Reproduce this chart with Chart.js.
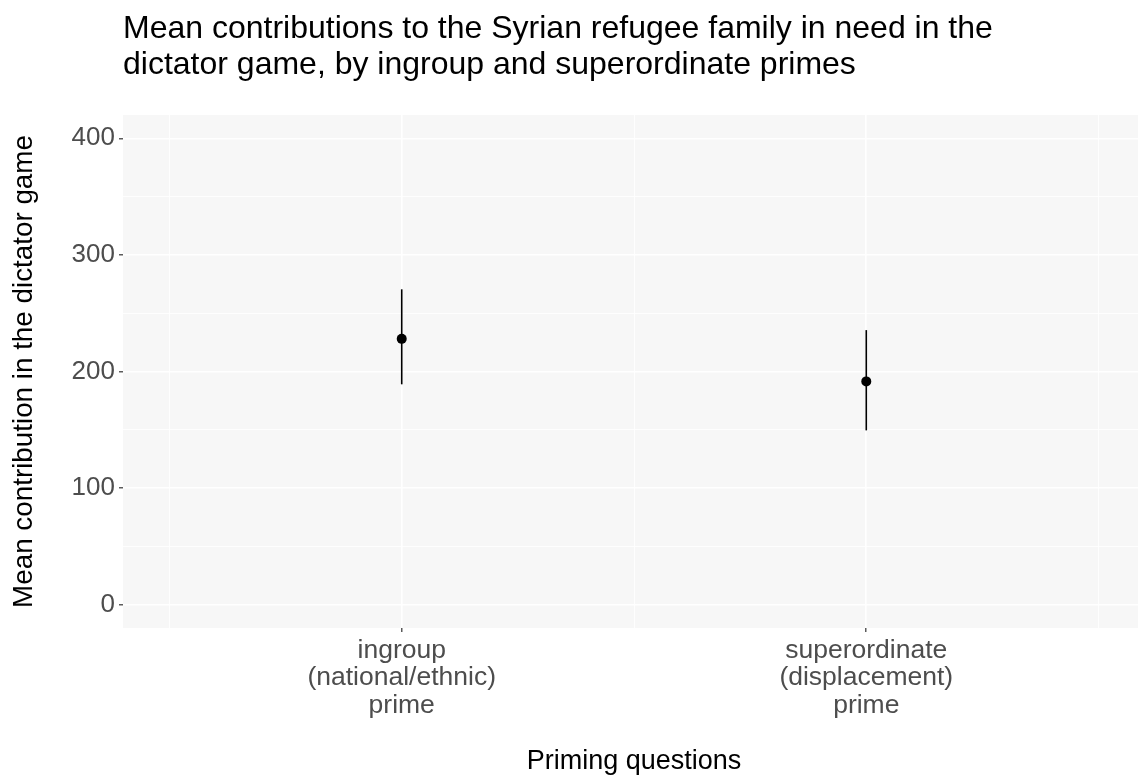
<!DOCTYPE html>
<html>
<head>
<meta charset="utf-8">
<script src="https://cdn.jsdelivr.net/npm/chart.js@4.4.1/dist/chart.umd.min.js"></script>
<style>
  html, body { margin: 0; padding: 0; background: #ffffff; overflow: hidden; }
  .chart-box { position: relative; width: 1150px; height: 778px; }
</style>
</head>
<body>
<div class="chart-box"><canvas id="primeChart"></canvas></div>
<script>
// values
const categories = [
    ['ingroup', '(national/ethnic)', 'prime'],
    ['superordinate', '(displacement)', 'prime']
];
const catPositions = [1, 2];
const meanValues = [228, 191.5];
const lowerValues = [189, 149.5];
const upperValues = [270.5, 235.5];

const xMinorBreaks = [0.5, 1.5, 2.5];
const yMajorBreaks = [0, 100, 200, 300, 400];
const yMinorBreaks = [50, 150, 250, 350];

const FONT = '"Liberation Sans", Arial, Helvetica, sans-serif';

// grey panel behind the plot, like ggplot
const panelBackground = {
    id: 'panelBackground',
    beforeDraw(chart) {
        const { ctx, chartArea } = chart;
        ctx.save();
        ctx.fillStyle = '#F7F7F7';
        ctx.fillRect(chartArea.left, chartArea.top, chartArea.right - chartArea.left, chartArea.bottom - chartArea.top);
        ctx.restore();
    }
};

const errorBarSets = catPositions.map((x, i) => ({
    type: 'line',
    data: [{ x: x, y: lowerValues[i] }, { x: x, y: upperValues[i] }],
    borderColor: '#000000',
    borderWidth: 1.6,
    pointRadius: 0,
    showLine: true
}));

const pointSet = {
    data: catPositions.map((x, i) => ({ x: x, y: meanValues[i] })),
    backgroundColor: '#000000',
    borderColor: '#000000',
    pointRadius: 5,
    pointBorderWidth: 0
};

function isMajor(list, v) {
    return list.some(m => Math.abs(m - v) < 1e-9);
}

new Chart(document.getElementById('primeChart').getContext('2d'), {
    type: 'scatter',
    data: { datasets: [pointSet, ...errorBarSets] },
    plugins: [panelBackground],
    options: {
        responsive: true,
        maintainAspectRatio: false,
        animation: false,
        layout: { padding: { left: 0, right: 5, top: 0, bottom: 0 } },
        plugins: {
            legend: { display: false },
            tooltip: { enabled: false },
            title: {
                display: true,
                fullSize: false,
                align: 'start',
                text: ['Mean contributions to the Syrian refugee family in need in the',
                       'dictator game, by ingroup and superordinate primes'],
                color: '#000000',
                font: { family: FONT, size: 32, weight: 'normal', lineHeight: 1.1 },
                padding: { top: 12, bottom: 32.6 }
            }
        },
        scales: {
            x: {
                type: 'linear',
                min: 0.4,
                max: 2.6,
                afterBuildTicks: scale => {
                    scale.ticks = [...catPositions, ...xMinorBreaks].sort((a, b) => a - b).map(v => ({ value: v }));
                },
                afterFit: scale => { scale.height = 150; },
                ticks: {
                    autoSkip: false,
                    maxRotation: 0,
                    color: '#4D4D4D',
                    padding: 5,
                    font: { family: FONT, size: 26.5, lineHeight: 1.03 },
                    callback: v => {
                        const i = catPositions.indexOf(v);
                        return i >= 0 ? categories[i] : '';
                    }
                },
                grid: {
                    color: '#FFFFFF',
                    lineWidth: c => isMajor(catPositions, c.tick.value) ? 1.6 : 0.8,
                    tickColor: c => isMajor(catPositions, c.tick.value) ? '#333333' : 'rgba(0,0,0,0)',
                    tickLength: 4,
                    tickWidth: 1.2
                },
                border: { display: false },
                title: {
                    display: true,
                    text: 'Priming questions',
                    color: '#000000',
                    font: { family: FONT, size: 27 },
                    padding: { top: 0, bottom: 0 }
                }
            },
            y: {
                type: 'linear',
                min: -20,
                max: 420,
                afterBuildTicks: scale => {
                    scale.ticks = [...yMajorBreaks, ...yMinorBreaks].sort((a, b) => a - b).map(v => ({ value: v }));
                },
                afterFit: scale => { scale.width = 123; },
                ticks: {
                    autoSkip: false,
                    color: '#4D4D4D',
                    padding: 4,
                    font: { family: FONT, size: 26 },
                    callback: v => isMajor(yMajorBreaks, v) ? String(v) : ''
                },
                grid: {
                    color: '#FFFFFF',
                    lineWidth: c => isMajor(yMajorBreaks, c.tick.value) ? 1.6 : 0.8,
                    tickColor: c => isMajor(yMajorBreaks, c.tick.value) ? '#333333' : 'rgba(0,0,0,0)',
                    tickLength: 4,
                    tickWidth: 1.2
                },
                border: { display: false },
                title: {
                    display: true,
                    text: 'Mean contribution in the dictator game',
                    color: '#000000',
                    font: { family: FONT, size: 27.8 },
                    padding: { top: 8, bottom: 0 }
                }
            }
        }
    }
});
</script>
</body>
</html>
